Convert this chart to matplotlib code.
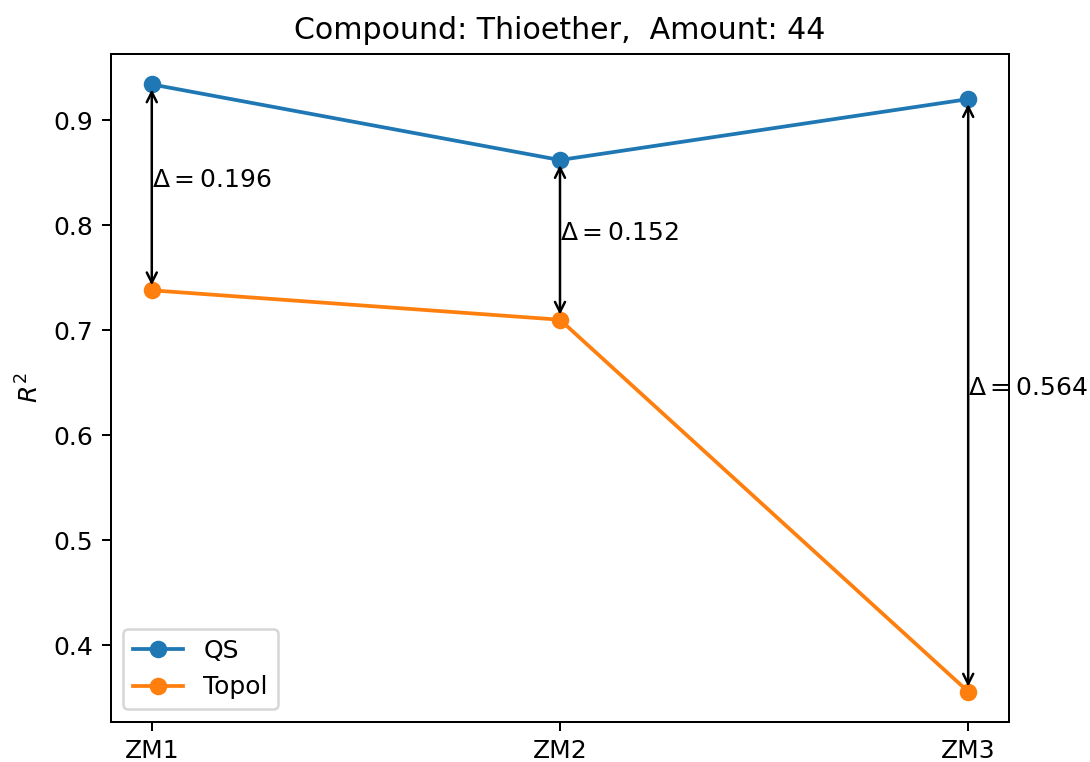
import numpy as np
import matplotlib
matplotlib.use("Agg")
import matplotlib.pyplot as plt

# data
models = ["ZM1", "ZM2", "ZM3"]
qs_r2 = [0.934, 0.862, 0.920]
topol_r2 = [0.738, 0.710, 0.356]
compound = "Thioether"
amount = 44

fig = plt.figure(figsize=(1090 / 180, 762 / 180), dpi=180)
ax = fig.add_axes([0.1018, 0.0525, 0.8239, 0.8766])

x = np.arange(len(models))
ax.plot(x, qs_r2, marker="o", label="QS")
ax.plot(x, topol_r2, marker="o", label="Topol")

# arrows + delta labels between the two curves
for i in x:
    lo, hi = topol_r2[i], qs_r2[i]
    ax.annotate("", xy=(i, hi), xytext=(i, lo),
                arrowprops=dict(arrowstyle="<->", color="black"))
    ax.text(i, (lo + hi) / 2, rf"$\Delta = {hi - lo:.3f}$")

ax.set_xticks(x)
ax.set_xticklabels(models)
ax.set_ylabel(r"$R^2$")
ax.set_title(f"Compound: {compound},  Amount: {amount}")
ax.legend(loc="lower left")

fig.savefig("out.png", dpi=180)
